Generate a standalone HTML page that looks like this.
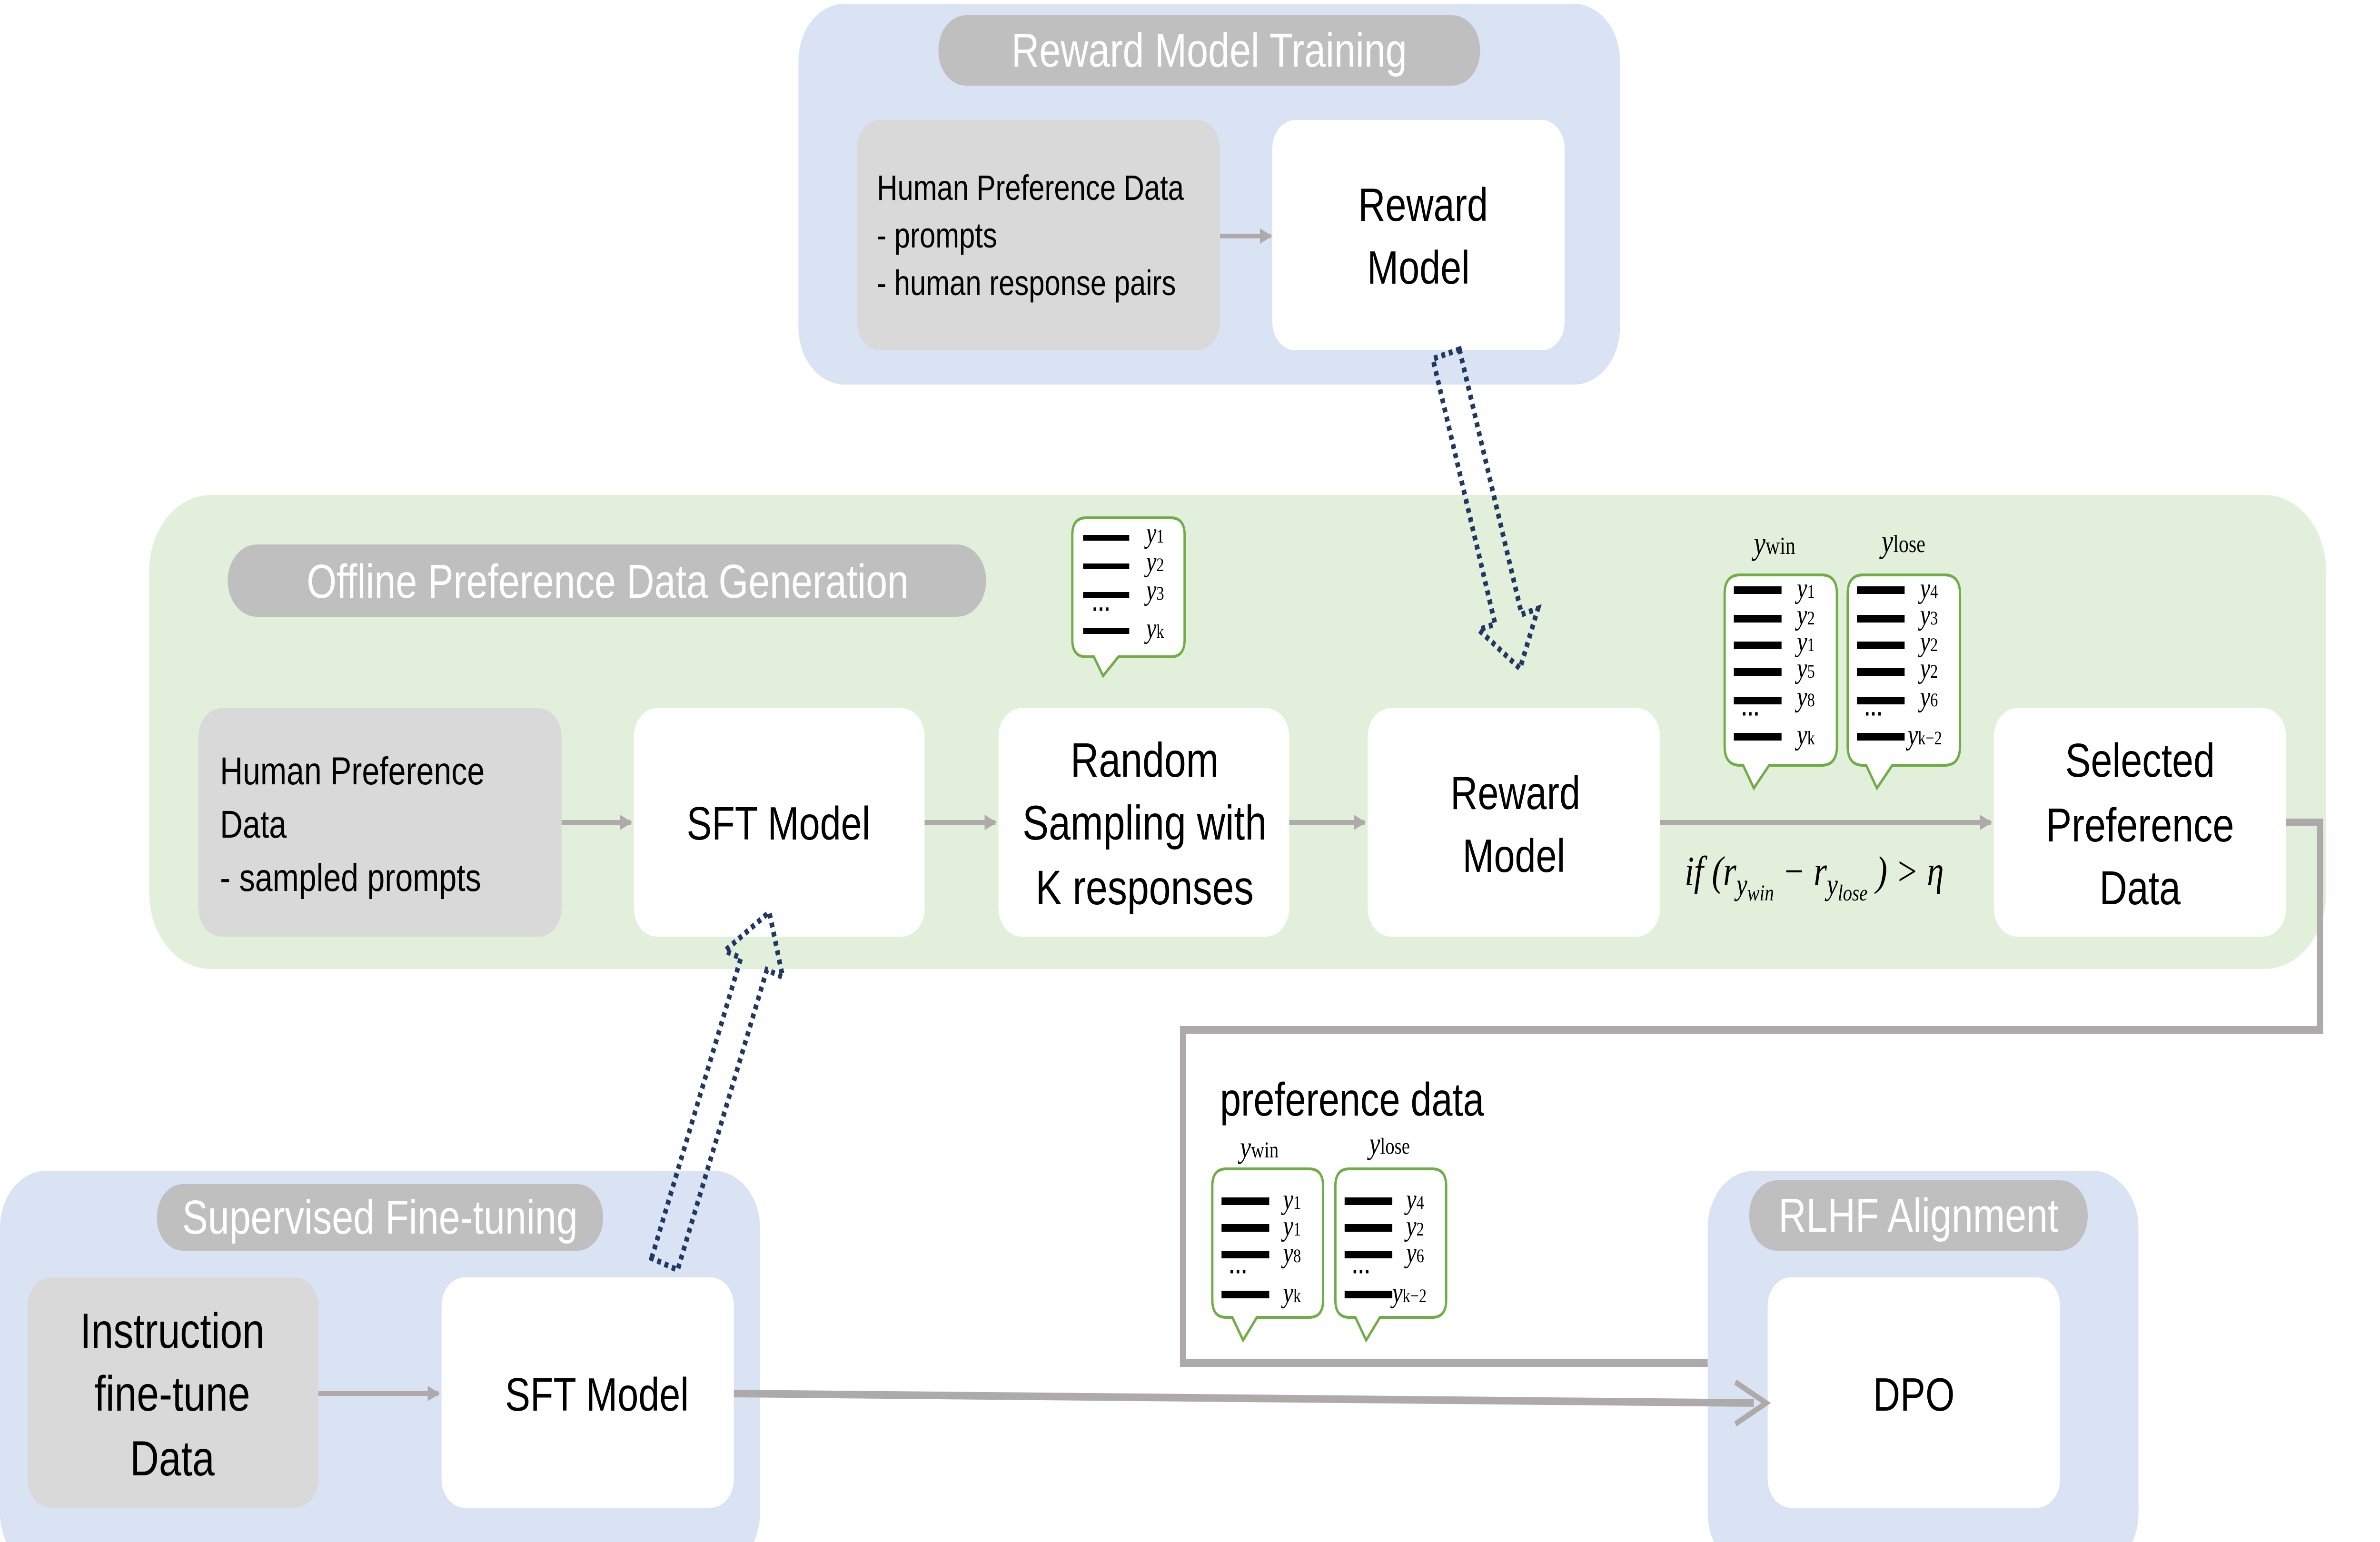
<!DOCTYPE html>
<html><head><meta charset="utf-8"><style>html,body{margin:0;padding:0;background:#fff;overflow:hidden;width:100%;height:100%}svg{display:block;width:100vw;height:100vh}</style></head><body>
<svg viewBox="0 0 1547 810" preserveAspectRatio="none" xmlns="http://www.w3.org/2000/svg" font-family="'Liberation Sans', sans-serif">
<defs>
<marker id="ah" markerWidth="8" markerHeight="8" refX="7" refY="4" orient="auto" markerUnits="userSpaceOnUse"><path d="M0,0 L8,4 L0,8 Z" fill="#aeaaaa"/></marker>
</defs>
<!-- Top panel -->
<rect x="519" y="2" width="534" height="200" rx="30" fill="#dae3f3"/>
<rect x="610" y="8" width="352" height="37" rx="18" fill="#bfbfbf"/>
<text x="786" y="35" font-size="25" fill="#fff" text-anchor="middle">Reward Model Training</text>
<rect x="557" y="63" width="236" height="121" rx="15" fill="#d9d9d9"/>
<text font-size="18.5" fill="#000"><tspan x="570" y="105">Human Preference Data</tspan><tspan x="570" y="130">- prompts</tspan><tspan x="570" y="155">- human response pairs</tspan></text>
<rect x="827" y="63" width="190" height="121" rx="15" fill="#fff"/>
<text font-size="24.5" text-anchor="middle"><tspan x="925" y="116">Reward</tspan><tspan x="922" y="149">Model</tspan></text>
<line x1="793" y1="124" x2="826" y2="124" stroke="#aeaaaa" stroke-width="2.5" marker-end="url(#ah)"/>

<!-- Green panel -->
<rect x="97" y="260" width="1415" height="249" rx="40" fill="#e2efda"/>
<rect x="148" y="286" width="493" height="38" rx="19" fill="#bfbfbf"/>
<text x="395" y="314" font-size="25" fill="#fff" text-anchor="middle">Offline Preference Data Generation</text>
<rect x="129" y="372" width="236" height="120" rx="15" fill="#d9d9d9"/>
<text font-size="20.5"><tspan x="143" y="412">Human Preference</tspan><tspan x="143" y="440">Data</tspan><tspan x="143" y="468">- sampled prompts</tspan></text>
<rect x="412" y="372" width="189" height="120" rx="15" fill="#fff"/>
<text x="506" y="441" font-size="24.5" text-anchor="middle">SFT Model</text>
<rect x="649" y="372" width="189" height="120" rx="15" fill="#fff"/>
<text font-size="25.5" text-anchor="middle"><tspan x="744" y="408">Random</tspan><tspan x="744" y="441">Sampling with</tspan><tspan x="744" y="475">K responses</tspan></text>
<rect x="889" y="372" width="190" height="120" rx="15" fill="#fff"/>
<text font-size="24.5" text-anchor="middle"><tspan x="985" y="425">Reward</tspan><tspan x="984" y="458">Model</tspan></text>
<rect x="1296" y="372" width="190" height="120" rx="15" fill="#fff"/>
<text font-size="25" text-anchor="middle"><tspan x="1391" y="408">Selected</tspan><tspan x="1391" y="442">Preference</tspan><tspan x="1391" y="475">Data</tspan></text>
<g stroke="#aeaaaa" stroke-width="2.5" marker-end="url(#ah)">
<line x1="365" y1="432" x2="410" y2="432"/>
<line x1="601" y1="432" x2="647" y2="432"/>
<line x1="838" y1="432" x2="887" y2="432"/>
<line x1="1079" y1="432" x2="1294" y2="432"/>
</g>
<text x="1095" y="465" font-size="22" font-style="italic" font-family="'Liberation Serif', serif">if (r<tspan font-size="16" dy="5">y</tspan><tspan font-size="12" dy="3">win</tspan><tspan dy="-8"> − r</tspan><tspan font-size="16" dy="5">y</tspan><tspan font-size="12" dy="3">lose</tspan><tspan dy="-8"> ) &gt; η</tspan></text>

<!-- bubble K -->
<g>
<path d="M706,272 H761 Q770,272 770,281 V336 Q770,345 761,345 H727 L717,355 L711,345 H706 Q697,345 697,336 V281 Q697,272 706,272 Z" fill="#fff" stroke="#70ad47" stroke-width="1.5"/>
<g fill="#000"><rect x="704" y="281" width="30" height="3"/><rect x="704" y="296" width="30" height="3"/><rect x="704" y="311" width="30" height="3"/><rect x="704" y="330" width="30" height="3"/></g>
<text font-family="'Liberation Serif', serif" font-style="italic" font-size="15"><tspan x="745" y="285">y<tspan font-size="10" font-style="normal">1</tspan></tspan><tspan x="745" y="300">y<tspan font-size="10" font-style="normal">2</tspan></tspan><tspan x="745" y="315">y<tspan font-size="10" font-style="normal">3</tspan></tspan><tspan x="745" y="335">y<tspan font-size="10" font-style="normal">k</tspan></tspan></text>
<text x="710" y="324" font-size="12" font-weight="bold">···</text>
</g>

<!-- bubbles win/lose in green -->
<text font-family="'Liberation Serif', serif" font-size="17"><tspan x="1140" y="291" font-style="italic">y</tspan><tspan font-size="13">win</tspan></text>
<text font-family="'Liberation Serif', serif" font-size="17"><tspan x="1223" y="290" font-style="italic">y</tspan><tspan font-size="13">lose</tspan></text>
<g>
<path d="M1131,302 H1184 Q1194,302 1194,312 V392 Q1194,402 1184,402 H1150 L1140,414 L1133,402 H1131 Q1121,402 1121,392 V312 Q1121,302 1131,302 Z" fill="#fff" stroke="#70ad47" stroke-width="1.5"/>
<path d="M1211,302 H1264 Q1274,302 1274,312 V392 Q1274,402 1264,402 H1230 L1220,414 L1213,402 H1211 Q1201,402 1201,392 V312 Q1201,302 1211,302 Z" fill="#fff" stroke="#70ad47" stroke-width="1.5"/>
<g fill="#000">
<rect x="1127" y="308" width="31" height="4"/><rect x="1127" y="323" width="31" height="4"/><rect x="1127" y="337" width="31" height="4"/><rect x="1127" y="351" width="31" height="4"/><rect x="1127" y="366" width="31" height="4"/><rect x="1127" y="385" width="31" height="4"/>
<rect x="1207" y="308" width="31" height="4"/><rect x="1207" y="323" width="31" height="4"/><rect x="1207" y="337" width="31" height="4"/><rect x="1207" y="351" width="31" height="4"/><rect x="1207" y="366" width="31" height="4"/><rect x="1207" y="385" width="31" height="4"/>
</g>
<text font-family="'Liberation Serif', serif" font-style="italic" font-size="15">
<tspan x="1168" y="314">y<tspan font-size="10" font-style="normal">1</tspan></tspan><tspan x="1168" y="328">y<tspan font-size="10" font-style="normal">2</tspan></tspan><tspan x="1168" y="342">y<tspan font-size="10" font-style="normal">1</tspan></tspan><tspan x="1168" y="356">y<tspan font-size="10" font-style="normal">5</tspan></tspan><tspan x="1168" y="371">y<tspan font-size="10" font-style="normal">8</tspan></tspan><tspan x="1168" y="391">y<tspan font-size="10" font-style="normal">k</tspan></tspan>
<tspan x="1248" y="314">y<tspan font-size="10" font-style="normal">4</tspan></tspan><tspan x="1248" y="328">y<tspan font-size="10" font-style="normal">3</tspan></tspan><tspan x="1248" y="342">y<tspan font-size="10" font-style="normal">2</tspan></tspan><tspan x="1248" y="356">y<tspan font-size="10" font-style="normal">2</tspan></tspan><tspan x="1248" y="371">y<tspan font-size="10" font-style="normal">6</tspan></tspan><tspan x="1240" y="391">y<tspan font-size="10" font-style="normal">k−2</tspan></tspan>
</text>
<text x="1132" y="379" font-size="12" font-weight="bold">···</text>
<text x="1212" y="379" font-size="12" font-weight="bold">···</text>
</g>

<!-- connector from Selected to DPO -->
<polyline points="1486,432 1508,432 1508,541 769,541 769,716 1138,716" fill="none" stroke="#aeaaaa" stroke-width="4"/>
<path d="M1128,705 L1148,716 L1128,727" fill="none" stroke="#aeaaaa" stroke-width="3"/>
<text x="793" y="586" font-size="24.5">preference data</text>

<!-- bottom bubbles -->
<text font-family="'Liberation Serif', serif" font-size="16"><tspan x="806" y="608" font-style="italic">y</tspan><tspan font-size="12">win</tspan></text>
<text font-family="'Liberation Serif', serif" font-size="16"><tspan x="890" y="606" font-style="italic">y</tspan><tspan font-size="12">lose</tspan></text>
<path d="M797,614 H851 Q860,614 860,623 V683 Q860,692 851,692 H817 L808,704 L801,692 H797 Q788,692 788,683 V623 Q788,614 797,614 Z" fill="#fff" stroke="#70ad47" stroke-width="1.5"/>
<path d="M877,614 H931 Q940,614 940,623 V683 Q940,692 931,692 H897 L888,704 L881,692 H877 Q868,692 868,683 V623 Q868,614 877,614 Z" fill="#fff" stroke="#70ad47" stroke-width="1.5"/>
<g fill="#000">
<rect x="794" y="629" width="31" height="4"/><rect x="794" y="643" width="31" height="4"/><rect x="794" y="657" width="31" height="4"/><rect x="794" y="678" width="31" height="4"/>
<rect x="874" y="629" width="31" height="4"/><rect x="874" y="643" width="31" height="4"/><rect x="874" y="657" width="31" height="4"/><rect x="874" y="678" width="31" height="4"/>
</g>
<text font-family="'Liberation Serif', serif" font-style="italic" font-size="15">
<tspan x="834" y="635">y<tspan font-size="10" font-style="normal">1</tspan></tspan><tspan x="834" y="649">y<tspan font-size="10" font-style="normal">1</tspan></tspan><tspan x="834" y="663">y<tspan font-size="10" font-style="normal">8</tspan></tspan><tspan x="834" y="684">y<tspan font-size="10" font-style="normal">k</tspan></tspan>
<tspan x="914" y="635">y<tspan font-size="10" font-style="normal">4</tspan></tspan><tspan x="914" y="649">y<tspan font-size="10" font-style="normal">2</tspan></tspan><tspan x="914" y="663">y<tspan font-size="10" font-style="normal">6</tspan></tspan><tspan x="905" y="684">y<tspan font-size="10" font-style="normal">k−2</tspan></tspan>
</text>
<text x="799" y="672" font-size="12" font-weight="bold">···</text>
<text x="879" y="672" font-size="12" font-weight="bold">···</text>

<!-- bottom left panel -->
<rect x="0" y="615" width="494" height="210" rx="30" fill="#dae3f3"/>
<rect x="102" y="622" width="290" height="35" rx="17" fill="#bfbfbf"/>
<text x="247" y="648" font-size="25" fill="#fff" text-anchor="middle">Supervised Fine-tuning</text>
<rect x="18" y="671" width="189" height="121" rx="15" fill="#d9d9d9"/>
<text font-size="26" text-anchor="middle"><tspan x="112" y="708">Instruction</tspan><tspan x="112" y="741">fine-tune</tspan><tspan x="112" y="775">Data</tspan></text>
<rect x="287" y="671" width="190" height="121" rx="15" fill="#fff"/>
<text x="388" y="741" font-size="24.5" text-anchor="middle">SFT Model</text>
<line x1="207" y1="732" x2="285" y2="732" stroke="#aeaaaa" stroke-width="2.5" marker-end="url(#ah)"/>

<!-- RLHF panel -->
<rect x="1110" y="615" width="280" height="210" rx="30" fill="#dae3f3"/>
<rect x="1137" y="620" width="220" height="37" rx="18" fill="#bfbfbf"/>
<text x="1247" y="647" font-size="25" fill="#fff" text-anchor="middle">RLHF Alignment</text>
<rect x="1149" y="671" width="190" height="121" rx="15" fill="#fff"/>
<text x="1244" y="741" font-size="24.5" text-anchor="middle">DPO</text>

<!-- SFT -> DPO -->
<line x1="477" y1="732" x2="1140" y2="737" stroke="#aeaaaa" stroke-width="4"/>
<path d="M1128,726 L1148,737 L1128,748" fill="none" stroke="#aeaaaa" stroke-width="3"/>

<!-- hollow dotted arrows -->
<g fill="none" stroke="#1f3864" stroke-width="3" stroke-dasharray="2.5,2.5">
<path transform="translate(940,186) rotate(73.8)" d="M0,-9 H145 V-20 L172,0 L145,20 V9 H0 Z"/>
<path transform="translate(432,664) rotate(-69.8)" d="M0,-9 H168 V-20 L197,0 L168,20 V9 H0 Z"/>
</g>
</svg>
</body></html>
